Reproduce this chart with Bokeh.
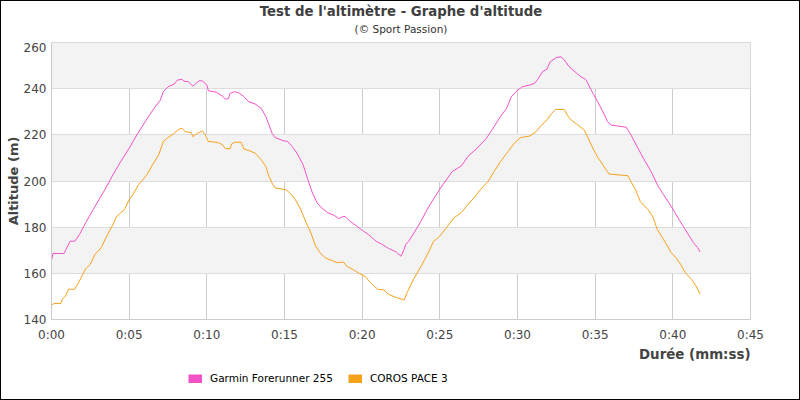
from bokeh.plotting import figure
from bokeh.layouts import column
from bokeh.models import Range1d, FixedTicker, Title, Legend, LegendItem, Label
from bokeh.embed import file_html
from bokeh.resources import INLINE

# ---- data (minutes, metres) ----
garmin_t = [0.0, 0.1, 0.3, 0.8, 1.2, 1.5, 1.8, 2.2, 2.8, 3.5, 3.9, 4.4, 5.0, 5.5, 6.1, 6.6,
            7.0, 7.2, 7.5, 7.9, 8.1, 8.4, 8.5, 8.8, 9.1, 9.2, 9.5, 9.7, 10.0, 10.1, 10.6,
            11.0, 11.2, 11.4, 11.5, 11.8, 12.1, 12.4, 12.7, 13.1, 13.5, 13.8, 14.0, 14.2,
            14.4, 14.9, 15.2, 15.5, 15.8, 16.2, 16.5, 16.8, 17.1, 17.4, 17.8, 18.2, 18.5,
            18.7, 18.9, 19.2, 19.6, 20.0, 20.4, 20.9, 21.3, 21.7, 22.2, 22.5, 22.7, 22.8,
            23.0, 23.6, 24.3, 25.0, 25.5, 25.8, 26.4, 26.8, 27.4, 28.0, 28.5, 28.9, 29.3,
            29.6, 29.9, 30.3, 30.8, 31.1, 31.3, 31.6, 31.9, 32.1, 32.5, 32.8, 33.0, 33.3,
            33.7, 34.1, 34.4, 34.8, 35.1, 35.5, 35.8, 36.0, 37.0, 37.3, 37.7, 38.1, 38.6,
            39.0, 39.4, 40.0, 40.4, 40.8, 41.3, 41.6, 41.75]
garmin_alt = [165.7, 168.6, 168.6, 168.6, 173.9, 173.9, 176.8, 181.9, 189.0, 197.0, 202.0, 207.8,
              214.2, 220.0, 226.4, 231.5, 235.0, 238.7, 240.8, 242.0, 243.7, 244.1, 243.3, 243.0,
              241.1, 241.6, 243.4, 243.4, 241.6, 239.1, 238.5, 236.8, 235.4, 235.8, 238.0, 238.7,
              238.0, 236.5, 234.3, 233.4, 231.5, 227.9, 224.3, 220.7, 218.8, 217.5, 217.1, 214.9,
              212.1, 207.0, 200.6, 194.8, 190.5, 188.3, 186.2, 185.1, 183.7, 184.4, 184.7, 182.6,
              180.7, 178.7, 176.8, 173.9, 172.5, 170.8, 169.2, 167.4, 170.3, 172.5, 173.9, 180.4,
              189.0, 196.5, 201.3, 204.1, 206.6, 210.6, 214.2, 218.5, 223.6, 227.9, 231.5, 236.5,
              238.7, 240.8, 241.6, 242.3, 244.0, 247.3, 248.5, 251.6, 253.5, 253.8, 252.6, 249.7,
              247.3, 245.1, 244.0, 238.7, 235.1, 230.0, 225.7, 224.3, 223.3, 220.0, 214.9, 209.9,
              204.1, 198.4, 194.1, 187.9, 183.3, 179.0, 173.5, 171.1, 169.3]

coros_t = [0.0, 0.15, 0.6, 0.7, 0.9, 1.1, 1.5, 1.8, 2.2, 2.5, 2.8, 3.2, 3.5, 3.9, 4.2, 4.7,
           5.0, 5.3, 5.6, 6.1, 6.5, 6.9, 7.2, 7.5, 7.9, 8.2, 8.4, 8.6, 9.0, 9.1, 9.4, 9.7,
           9.9, 10.1, 10.7, 11.0, 11.2, 11.5, 11.6, 11.8, 12.2, 12.4, 12.7, 13.1, 13.5, 13.8,
           14.0, 14.2, 14.4, 15.1, 15.4, 15.7, 16.0, 16.4, 16.7, 17.0, 17.3, 17.6, 18.0, 18.4,
           18.8, 19.0, 19.4, 19.8, 20.2, 20.5, 21.0, 21.4, 21.7, 22.2, 22.7, 22.9, 23.3, 23.8,
           24.2, 24.6, 25.0, 25.5, 25.9, 26.4, 26.8, 27.2, 27.6, 28.1, 28.5, 28.9, 29.4, 29.8,
           30.2, 30.8, 31.2, 31.5, 31.9, 32.2, 32.45, 33.0, 33.2, 33.4, 33.8, 34.3, 34.6, 34.9,
           35.2, 35.7, 35.9, 37.1, 37.3, 37.6, 37.9, 38.4, 38.7, 39.0, 39.4, 39.9, 40.2, 40.5,
           40.8, 41.2, 41.5, 41.75]
coros_alt = [146.2, 146.9, 146.9, 148.8, 150.2, 153.1, 153.1, 156.7, 162.0, 163.9, 168.2, 171.1,
             175.4, 180.4, 184.7, 187.6, 191.9, 194.8, 198.4, 202.3, 207.0, 211.3, 217.1, 218.8,
             220.7, 222.4, 222.9, 221.4, 221.0, 219.2, 220.7, 221.7, 220.0, 217.1, 216.7, 215.7,
             214.0, 214.0, 216.1, 216.8, 216.8, 213.8, 213.2, 212.1, 209.2, 206.3, 202.0, 199.1,
             197.0, 196.2, 194.5, 191.9, 188.3, 181.9, 177.5, 171.8, 168.9, 166.8, 165.7, 164.6,
             164.9, 163.1, 161.7, 160.0, 158.6, 156.2, 153.1, 152.8, 150.9, 149.5, 148.5, 151.7,
             157.4, 163.1, 168.2, 173.9, 176.1, 180.4, 184.0, 186.4, 189.8, 192.7, 196.2, 199.8,
             204.1, 208.4, 212.8, 216.4, 218.8, 219.5, 221.4, 223.9, 226.5, 229.3, 231.0, 231.0,
             228.6, 226.8, 224.7, 222.1, 217.8, 213.5, 209.9, 204.9, 203.0, 202.3, 199.8, 196.2,
             191.2, 187.6, 184.7, 179.0, 174.7, 168.9, 166.8, 163.9, 160.3, 157.4, 154.5, 150.9]

series_names = ["Garmin Forerunner 255", "COROS PACE 3"]
series_colors = ["#f252c6", "#f4a11c"]

x_ticks = [0, 5, 10, 15, 20, 25, 30, 35, 40, 45]
x_tick_labels = ["0:00", "0:05", "0:10", "0:15", "0:20", "0:25", "0:30", "0:35", "0:40", "0:45"]
y_ticks = [140, 160, 180, 200, 220, 240, 260]

title_text = "Test de l'altimètre - Graphe d'altitude"
subtitle_text = "(© Sport Passion)"

FONT = "DejaVu Sans"

# ---- title strip above the chart ----
top = figure(width=798, height=41, output_backend="svg", toolbar_location=None,
             title=None, min_border=0, x_range=Range1d(0, 1), y_range=Range1d(0, 41))
top.axis.visible = False
top.grid.visible = False
top.outline_line_color = None
top.add_layout(Label(x=0.5, y=31, text=title_text, text_align="center",
                     text_baseline="middle", text_font=FONT, text_font_size="13.3px",
                     text_font_style="bold", text_color="#404040"))
top.add_layout(Label(x=0.5, y=14, text=subtitle_text, text_align="center",
                     text_baseline="middle", text_font=FONT, text_font_size="10.5px",
                     text_color="#333333"))

# ---- main chart ----
p = figure(width=798, height=319, output_backend="svg", toolbar_location=None,
           title=None,
           x_range=Range1d(0, 45), y_range=Range1d(140, 260),
           min_border_left=50, min_border_right=49, min_border_top=0, min_border_bottom=41)

p.background_fill_color = "white"
p.outline_line_color = "#d0d0d0"

# axes
p.xaxis.ticker = FixedTicker(ticks=x_ticks)
p.xaxis.major_label_overrides = {t: l for t, l in zip(x_ticks, x_tick_labels)}
p.yaxis.ticker = FixedTicker(ticks=y_ticks)
for ax in (p.xaxis[0], p.yaxis[0]):
    ax.major_tick_out = 0
    ax.major_tick_in = 0
    ax.minor_tick_out = 0
    ax.minor_tick_in = 0
    ax.axis_line_color = "#cccccc"
    ax.major_label_text_font = FONT
    ax.major_label_text_font_size = "12px"
    ax.major_label_text_color = "#444444"
    ax.axis_label_text_font = FONT
    ax.axis_label_text_font_size = "13px"
    ax.axis_label_text_font_style = "bold"
    ax.axis_label_text_color = "#444444"

p.xaxis.major_label_standoff = 8
p.yaxis.axis_label = "Altitude (m)"
p.yaxis.major_label_standoff = 5
p.yaxis.axis_label_standoff = 0

# x-axis title, right-aligned under the frame
p.add_layout(Title(text="Durée (mm:ss)", align="right", text_font=FONT,
                   text_font_size="13.4px", text_font_style="bold", text_color="#444444",
                   standoff=0, offset=0), "below")

# grids
p.xgrid.ticker = FixedTicker(ticks=x_ticks)
p.ygrid.ticker = FixedTicker(ticks=y_ticks)
p.xgrid.grid_line_color = "#cccccc"
p.ygrid.grid_line_color = "#dddddd"
p.ygrid.band_fill_color = "#f3f3f3"
p.ygrid.band_fill_alpha = 1.0

# lines
p.line(garmin_t, garmin_alt, line_color=series_colors[0], line_width=1)
p.line(coros_t, coros_alt, line_color=series_colors[1], line_width=1)

# ---- legend strip below the chart ----
# the strip's view range lies outside the data, so only the legend swatches show
leg = figure(width=798, height=38, output_backend="svg", toolbar_location=None,
             title=None, min_border=0, x_range=Range1d(100, 101), y_range=Range1d(0, 1))
leg.axis.visible = False
leg.grid.visible = False
leg.outline_line_color = None

s1 = leg.line(garmin_t, garmin_alt, line_color=series_colors[0], line_width=9, line_cap="butt")
s2 = leg.line(coros_t, coros_alt, line_color=series_colors[1], line_width=9, line_cap="butt")

legend = Legend(items=[LegendItem(label=series_names[0], renderers=[s1]),
                       LegendItem(label=series_names[1], renderers=[s2])],
                orientation="horizontal", location=(137, 14),
                padding=0, margin=0, spacing=15, label_standoff=8,
                glyph_width=14, glyph_height=9, label_height=14,
                label_text_font=FONT, label_text_font_size="10.5px", label_text_color="#000000",
                background_fill_alpha=0, border_line_alpha=0)
leg.add_layout(legend, "center")

layout = column(top, p, leg, spacing=0)
layout.styles = {"border": "1px solid black"}

html = file_html(layout, INLINE)
open("out.html", "w").write(html)
